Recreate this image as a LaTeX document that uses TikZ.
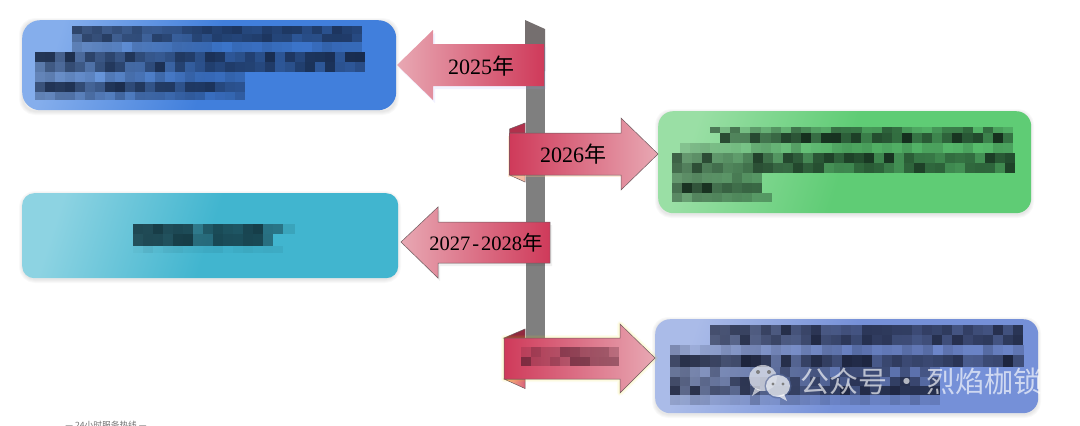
\documentclass[tikz,border=0pt]{standalone}
\usepackage{fontspec}
\setmainfont{Liberation Serif}
\newfontfamily\cjk{Noto Sans CJK SC}
\usetikzlibrary{calc}
\definecolor{rosedark}{HTML}{CF3A5A}
\definecolor{roselight}{HTML}{E8A8B3}
\definecolor{spinegrey}{HTML}{7F7F7F}
\definecolor{spinetop}{HTML}{756F6F}
\definecolor{arrowline}{HTML}{6E5A5E}
\definecolor{inkblue}{HTML}{14233F}
\definecolor{inkgreen}{HTML}{12281A}
\definecolor{inkteal}{HTML}{0F2A32}
\definecolor{inkperi}{HTML}{161C32}
\definecolor{inkrose}{HTML}{4A1A2A}
\tikzset{
  rbox/.style={rounded corners=#1,inner sep=0pt,anchor=north west,draw=none},
  year/.style={inner sep=0pt,font=\fontsize{22}{22}\selectfont,text=black},
  band/.style={draw=arrowline,line width=.5pt},
  softedge/.style={line join=round,opacity=.022}
}
\definecolor{bluea}{HTML}{85AEEC}\definecolor{blueb}{HTML}{417FDC}
\definecolor{greena}{HTML}{9ADFA5}\definecolor{greenb}{HTML}{5FCC75}
\definecolor{teala}{HTML}{8DD3E2}\definecolor{tealb}{HTML}{41B5CF}
\definecolor{peria}{HTML}{AABBE8}\definecolor{perib}{HTML}{7590D8}
% one row of a pixelated strip: x, y, cells, cell w, cell h, colour, base opacity, spread
\newcommand{\pixrow}[8]{%
  \foreach \ci in {1,...,#3}{%
    \pgfmathsetmacro\cop{max(0,min(1,#7+#8*rand))}%
    \fill[#6,fill opacity=\cop] ({#1+(\ci-1)*#4},#2) rectangle ++(#4,#5);%
  }}
\newcommand{\boxglow}[5]{%
  \foreach \gw in {2,4,6,8}{%
    \draw[#5,line width=\gw pt,softedge,rounded corners=12pt] (#1,#2) rectangle (#3,#4);}}
\begin{document}
\begin{tikzpicture}[x=1pt,y=-1pt]
\useasboundingbox (0,0) rectangle (1080,426);
\fill[white] (0,0) rectangle (1080,426);
\pgfmathsetseed{11}

% spine
\fill[spinegrey] (526,44) rectangle (544.7,340);
\fill[spinetop] (525,20) -- (545,29) -- (545,71) -- (525,71) -- cycle;

% soft edges of boxes
\boxglow{23}{22}{395}{111}{black}
\boxglow{659}{113}{1030}{214}{black}
\boxglow{23}{195}{397}{279}{black}
\boxglow{656}{321}{1037}{414}{black}

% boxes
\node[rbox=18pt,minimum width=374pt,minimum height=90pt,left color=bluea,right color=blueb,middle color=blueb,shading angle=72] (boxa) at (22,20) {};
\node[rbox=15pt,minimum width=373pt,minimum height=102pt,left color=greena,right color=greenb,middle color=greenb,shading angle=72] (boxb) at (658,111) {};
\node[rbox=12pt,minimum width=376pt,minimum height=85pt,left color=teala,right color=tealb,middle color=tealb,shading angle=72] (boxc) at (22,193) {};
\node[rbox=15pt,minimum width=383pt,minimum height=94pt,left color=peria,right color=perib,middle color=perib,shading angle=72] (boxd) at (655,319) {};

% pixelated text, blue box
\pixrow{72}{26}{29}{10}{8}{inkblue}{.62}{.18}
\pixrow{72}{34}{29}{10}{8}{inkblue}{.6}{.2}
\pixrow{72}{42}{29}{10}{10}{inkblue}{.2}{.12}
\pixrow{35}{52}{33}{10}{10}{inkblue}{.68}{.25}
\pixrow{35}{62}{33}{10}{10}{inkblue}{.62}{.25}
\pixrow{35}{72}{21}{10}{10}{inkblue}{.22}{.15}
\pixrow{35}{82}{21}{10}{10}{inkblue}{.7}{.22}
\pixrow{35}{92}{21}{10}{8}{inkblue}{.3}{.12}

% pixelated text, green box
\pixrow{710}{127}{30}{10.1}{6}{inkgreen}{.4}{.25}
\pixrow{720}{133}{29}{10.1}{10}{inkgreen}{.68}{.28}
\pixrow{680}{143}{33}{10.1}{10}{inkgreen}{.2}{.1}
\pixrow{672}{153}{34}{10.1}{10}{inkgreen}{.65}{.32}
\pixrow{672}{163}{34}{10.1}{10}{inkgreen}{.6}{.25}
\pixrow{672}{173}{9}{10}{10}{inkgreen}{.42}{.18}
\pixrow{672}{183}{9}{10}{10}{inkgreen}{.75}{.2}
\pixrow{672}{193}{10}{10}{9}{inkgreen}{.38}{.1}

% pixelated text, teal box
\pixrow{133}{224}{6}{10}{10}{inkteal}{.82}{.06}
\pixrow{193}{224}{5}{10}{10}{inkteal}{.6}{.2}
\pixrow{243}{224}{2}{10}{10}{inkteal}{.82}{.05}
\pixrow{263}{224}{2}{10}{10}{inkteal}{.5}{.05}
\fill[inkteal,fill opacity=.12] (283,224) rectangle (295,234);
\pixrow{133}{234}{6}{10}{12}{inkteal}{.8}{.08}
\pixrow{193}{234}{5}{10}{12}{inkteal}{.62}{.22}
\pixrow{243}{234}{2}{10}{12}{inkteal}{.82}{.05}
\pixrow{263}{234}{1}{10}{12}{inkteal}{.5}{.02}
\pixrow{133}{246}{15}{10}{7}{inkteal}{.06}{.03}

% pixelated text, periwinkle box
\pixrow{710}{325}{31}{10.1}{10}{inkperi}{.68}{.18}
\pixrow{710}{335}{31}{10.1}{10}{inkperi}{.7}{.2}
\pixrow{670}{345}{35}{10.1}{10}{inkperi}{.2}{.12}
\pixrow{670}{355}{35}{10.1}{12}{inkperi}{.66}{.28}
\pixrow{670}{367}{27}{10}{10}{inkperi}{.42}{.22}
\pixrow{670}{377}{27}{10}{9}{inkperi}{.55}{.28}
\pixrow{670}{386}{27}{10}{9}{inkperi}{.68}{.22}
\pixrow{670}{395}{27}{10}{10}{inkperi}{.2}{.1}

% arrow 2025
\fill[blue!40!white,opacity=.12] (399,68) -- (435,33) -- (435,47) -- (546,47) -- (546,89) -- (435,89) -- (435,103) -- cycle;
\path[left color=roselight,right color=rosedark] (397,65) -- (433,30) -- (433,44) -- (544,44) -- (544,86) -- (433,86) -- (433,100) -- cycle;
\node[year] (ya) at (481,66) {2025{\cjk 年}};

% arrow 2026
\path[band,fill=rosedark!85!black] (509.5,133) -- (509.5,129) -- (525,123) -- (525,133) -- cycle;
\path[band,fill=roselight!70!orange!70!white] (509.5,175) -- (525,182) -- (525,175) -- cycle;
\fill[orange!50!white,opacity=.3] (508,136) rectangle (622,177);
\path[band,left color=rosedark,right color=roselight] (509.5,133) -- (621,133) -- (621,118) -- (658,154) -- (621,190) -- (621,175) -- (509.5,175) -- cycle;
\node[year] (yb) at (573,154) {2026{\cjk 年}};

% arrow 2027-2028
\fill[black,opacity=.06] (403,245) -- (440,210) -- (440,225) -- (552,225) -- (552,266) -- (440,266) -- (440,281) -- cycle;
\path[band,left color=roselight,right color=rosedark] (401,242) -- (438,207) -- (438,222) -- (550,222) -- (550,263) -- (438,263) -- (438,278) -- cycle;
\node[year,font=\fontsize{20.5}{20}\selectfont] (yc) at (486,243) {2027\kern2pt-\kern2pt2028{\cjk 年}};

% arrow 4
\path[band,fill=rosedark!70!black] (504,338) -- (525,329) -- (525,338) -- cycle;
\path[band,left color=orange!50!white,right color=rosedark!80!white] (504,379) -- (525,388.5) -- (525,379) -- cycle;
\foreach \gw in {2,4,6}{
  \draw[yellow!80!orange,line width=\gw pt,opacity=.06,line join=round] (504,338) -- (620,338) -- (620,324) -- (655,358) -- (620,393) -- (620,379) -- (504,379) -- cycle;}
\path[band,left color=rosedark,right color=roselight] (504,338) -- (620,338) -- (620,324) -- (655,358) -- (620,393) -- (620,379) -- (504,379) -- cycle;
\pixrow{521}{347}{10}{9.8}{9.5}{inkrose}{.35}{.2}
\pixrow{521}{356.5}{10}{9.8}{9.5}{inkrose}{.45}{.2}

% watermark
\begin{scope}[fill opacity=.62]
\fill[white] (763,378) ellipse (14 and 13);
\fill[white] (755,388) -- (752,396) -- (761,390) -- cycle;
\end{scope}
\fill[perib!70!black,fill opacity=.6] (778,386) ellipse (13.5 and 12.5);
\begin{scope}[fill opacity=.7]
\fill[white] (778,386) ellipse (12 and 11);
\fill[white] (784,394) -- (787,401) -- (778,396) -- cycle;
\end{scope}
\fill[black!50] (758,372) circle (2);
\fill[black!50] (769,372) circle (2);
\fill[black!50] (773,384) circle (1.7);
\fill[black!50] (783,384) circle (1.7);
\node[anchor=west,inner sep=0pt,text=white,text opacity=.65,font=\cjk\fontsize{29}{29}\selectfont] (mark) at (800,381) {公众号\hspace{5pt}·\hspace{5pt}烈焰枷锁};

% cut-off footer line
\node[inner sep=0pt,text=black!55,font=\cjk\fontsize{8.7}{8.7}\selectfont] (foot) at (106,425) {— 24小时服务热线 —};
\end{tikzpicture}
\end{document}
